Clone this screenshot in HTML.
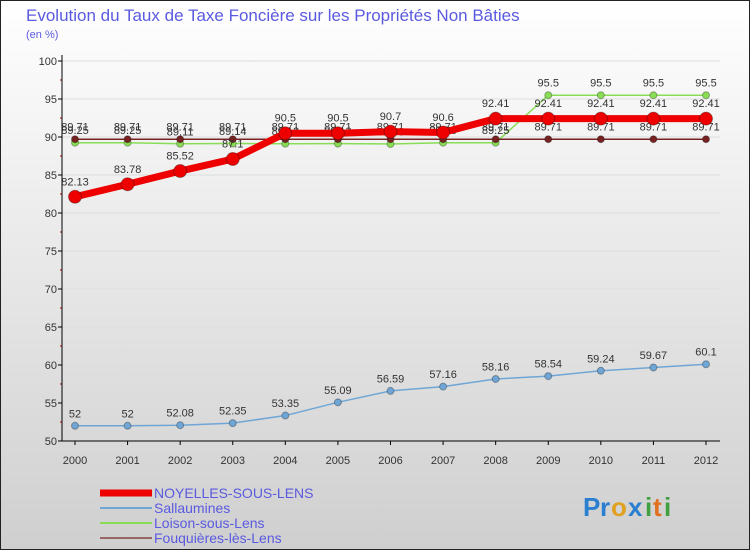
<!DOCTYPE html>
<html><head><meta charset="utf-8"><style>
body{margin:0;width:750px;height:550px;overflow:hidden;font-family:"Liberation Sans",sans-serif}
svg{display:block}
</style></head><body>
<svg width="750" height="550">
<defs><linearGradient id="bg" x1="0" y1="0" x2="0" y2="1"><stop offset="0" stop-color="#ffffff"/><stop offset="1" stop-color="#cfcfcf"/></linearGradient></defs>
<rect x="0.5" y="0.5" width="749" height="549" fill="url(#bg)" stroke="#222"/>
<text x="26" y="21" font-size="17" fill="#5a5ae0">Evolution du Taux de Taxe Foncière sur les Propriétés Non Bâties</text>
<text x="26" y="38" font-size="11" fill="#5a5ae0">(en %)</text>
<g id="axes"></g><g id="series"></g><g id="legend"></g>
<g font-size="26" font-weight="bold">
<text x="583" y="516" fill="#2a7fd0">P</text><text x="600" y="516" fill="#2a7fd0">r</text><text x="611" y="516" fill="#e0a020">o</text><text x="628" y="516" fill="#2a7fd0">x</text><text x="645" y="516" fill="#40a040">i</text><text x="653" y="516" fill="#e07020">t</text><text x="664" y="516" fill="#40a040">i</text>
</g>
</svg>
<script>
const years=[2000,2001,2002,2003,2004,2005,2006,2007,2008,2009,2010,2011,2012];
const noyelles=[82.13,83.78,85.52,87.1,90.5,90.5,90.7,90.6,92.41,92.41,92.41,92.41,92.41];
const sallaumines=[52,52,52.08,52.35,53.35,55.09,56.59,57.16,58.16,58.54,59.24,59.67,60.1];
const loison=[89.25,89.25,89.11,89.14,89.12,89.13,89.08,89.25,89.25,95.5,95.5,95.5,95.5];
const fouquieres=[89.71,89.71,89.71,89.71,89.71,89.71,89.71,89.71,89.71,89.71,89.71,89.71,89.71];
const yTicks=[50,55,60,65,70,75,80,85,90,95,100];
const NS="http://www.w3.org/2000/svg";
const X=i=>75+i*(706-75)/(years.length-1);
const Y=v=>441-(v-50)*(441-61)/50;
function mk(t,a,p){const e=document.createElementNS(NS,t);for(const k in a)e.setAttribute(k,a[k]);p.appendChild(e);return e;}
const ax=document.getElementById('axes');
yTicks.forEach(v=>{
 const g=mk('line',{x1:62,x2:720,y1:Y(v),y2:Y(v),stroke:'#ddd'},ax);
 
 
 const t=mk('text',{x:57,y:Y(v)+4,'text-anchor':'end','font-size':11,fill:'#333'},ax);t.textContent=v;
 
 
 mk('line',{x1:58,x2:62,y1:Y(v),y2:Y(v),stroke:'#000'},ax);
 if(v<100)mk('line',{x1:60,x2:62,y1:Y(v+2.5),y2:Y(v+2.5),stroke:'#c00'},ax);
});
mk('line',{x1:62,x2:62,y1:55,y2:441,stroke:'#000'},ax);
mk('line',{x1:62,x2:720,y1:441,y2:441,stroke:'#000'},ax);
years.forEach((y,i)=>{
 mk('line',{x1:X(i),x2:X(i),y1:441,y2:445,stroke:'#000'},ax);
 const t=mk('text',{x:X(i),y:464,'text-anchor':'middle','font-size':11,fill:'#333'},ax);t.textContent=y;
 
 
});
const S=document.getElementById('series');
function series(vals,color,w,r,name){
 const g=mk('g',{},S);
 
 
 mk('polyline',{points:vals.map((v,i)=>X(i)+','+Y(v)).join(' '),fill:'none',stroke:color,'stroke-width':w},g);
 vals.forEach((v,i)=>{
  const c=mk('circle',{cx:X(i),cy:Y(v),r:r,fill:color,stroke:'rgba(0,0,0,0.3)'},g);
  
  
  const t=mk('text',{x:X(i),y:Y(v)-r-5,'text-anchor':'middle','font-size':11,fill:'#333'},g);t.textContent=v;
 });
}
series(sallaumines,'#6fa6d6',1.5,3.5,'sallaumines-series');
series(loison,'#88dd55',1.5,3.5,'loison-series');
series(fouquieres,'#772222',1.5,3.5,'fouquieres-series');
series(noyelles,'#ee0000',7,6.5,'noyelles-series');
const L=document.getElementById('legend');
[['NOYELLES-SOUS-LENS','#ee0000',7,498],['Sallaumines','#6fa6d6',2,513],['Loison-sous-Lens','#88dd55',2,528],['Fouquières-lès-Lens','#996666',2,543]].forEach(d=>{
 const g=mk('g',{},L);
 
 
 mk('line',{x1:100,x2:152,y1:d[3]-5,y2:d[3]-5,stroke:d[1],'stroke-width':d[2]},g);
 const t=mk('text',{x:154,y:d[3],'font-size':14,fill:'#5a5ae0'},g);t.textContent=d[0];
});
</script>
</body></html>
